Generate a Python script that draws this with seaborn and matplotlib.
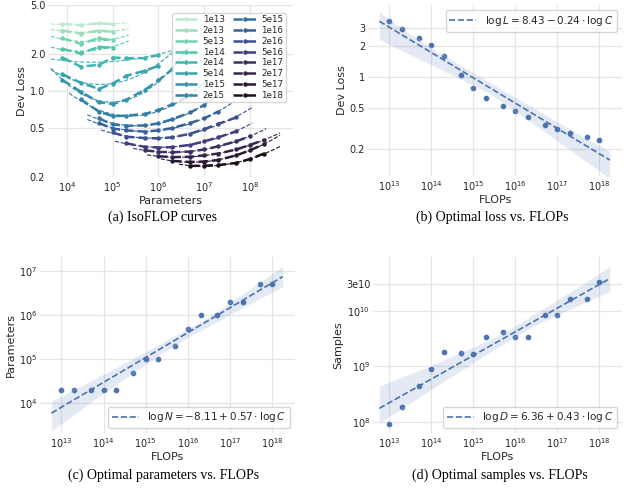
import numpy as np
import pandas as pd
import matplotlib
matplotlib.use("Agg")
import matplotlib.pyplot as plt
from matplotlib.ticker import NullLocator
import seaborn as sns

# compute budgets of the IsoFLOP sweeps
budgets = ['1e13', '2e13', '5e13', '1e14', '2e14', '5e14', '1e15', '2e15',
           '5e15', '1e16', '2e16', '5e16', '1e17', '2e17', '5e17', '1e18']

# model sizes and dev loss per budget
n_1e13 = [8e3, 2e4, 5e4, 1e5]
loss_1e13 = [3.50, 3.43, 3.55, 3.50]
n_2e13 = [8e3, 2e4, 5e4, 1e5]
loss_2e13 = [3.10, 2.93, 3.10, 3.03]
n_5e13 = [8e3, 2e4, 5e4, 1e5]
loss_5e13 = [2.68, 2.42, 2.68, 2.58]
n_1e14 = [8e3, 2e4, 5e4, 1e5]
loss_1e14 = [2.20, 2.02, 2.28, 2.25]
n_2e14 = [8e3, 2e4, 5e4, 1e5, 2e5, 5e5, 1e6]
loss_2e14 = [1.87, 1.58, 1.63, 1.87, 1.85, 1.85, 1.96]
n_5e14 = [8e3, 2e4, 5e4, 1e5, 2e5, 5e5, 1e6]
loss_5e14 = [1.37, 1.17, 1.04, 1.15, 1.33, 1.46, 1.60]
n_1e15 = [8e3, 2e4, 5e4, 1e5, 2e5, 5e5, 1e6, 2e6]
loss_1e15 = [1.23, 0.99, 0.81, 0.785, 0.85, 1.02, 1.22, 1.50]
n_2e15 = [2e4, 5e4, 1e5, 2e5, 5e5, 1e6, 2e6, 5e6]
loss_2e15 = [0.86, 0.68, 0.625, 0.63, 0.65, 0.70, 0.78, 0.92]
n_5e15 = [5e4, 1e5, 2e5, 5e5, 1e6, 2e6, 5e6, 1e7]
loss_5e15 = [0.60, 0.535, 0.522, 0.525, 0.545, 0.59, 0.67, 0.77]
n_1e16 = [5e4, 1e5, 2e5, 5e5, 1e6, 2e6, 5e6, 1e7, 2e7]
loss_1e16 = [0.55, 0.495, 0.478, 0.468, 0.478, 0.50, 0.55, 0.60, 0.68]
n_2e16 = [1e5, 2e5, 5e5, 1e6, 2e6, 5e6, 1e7, 2e7, 5e7]
loss_2e16 = [0.46, 0.425, 0.415, 0.412, 0.42, 0.45, 0.49, 0.54, 0.61]
n_5e16 = [2e5, 5e5, 1e6, 2e6, 5e6, 1e7, 2e7, 5e7]
loss_5e16 = [0.375, 0.352, 0.347, 0.35, 0.365, 0.39, 0.42, 0.47]
n_1e17 = [5e5, 1e6, 2e6, 5e6, 1e7, 2e7, 5e7, 1e8]
loss_1e17 = [0.33, 0.32, 0.318, 0.322, 0.335, 0.355, 0.39, 0.43]
n_2e17 = [1e6, 2e6, 5e6, 1e7, 2e7, 5e7, 1e8, 2e8]
loss_2e17 = [0.295, 0.29, 0.292, 0.30, 0.31, 0.335, 0.365, 0.40]
n_5e17 = [2e6, 5e6, 1e7, 2e7, 5e7, 1e8, 2e8]
loss_5e17 = [0.27, 0.265, 0.267, 0.275, 0.30, 0.33, 0.37]
n_1e18 = [5e6, 1e7, 2e7, 5e7, 1e8, 2e8]
loss_1e18 = [0.246, 0.247, 0.25, 0.26, 0.28, 0.31]

# optimal points per budget (panels b-d)
flops = [1e13, 2e13, 5e13, 1e14, 2e14, 5e14, 1e15, 2e15,
         5e15, 1e16, 2e16, 5e16, 1e17, 2e17, 5e17, 1e18]
opt_loss = [3.5, 2.95, 2.43, 2.05, 1.6, 1.05, 0.79, 0.635,
            0.527, 0.468, 0.412, 0.347, 0.318, 0.29, 0.265, 0.246]
opt_params = [2e4, 2e4, 2e4, 2e4, 2e4, 5e4, 1e5, 1e5,
              2e5, 5e5, 1e6, 1e6, 2e6, 2e6, 5e6, 5e6]
opt_samples = [9.2e7, 1.84e8, 4.5e8, 9.0e8, 1.8e9, 1.75e9, 1.7e9, 3.4e9,
               4.2e9, 3.36e9, 3.36e9, 8.4e9, 8.4e9, 1.64e10, 1.64e10, 3.29e10]

fit_labels = [r'$\log L = 8.43 - 0.24 \cdot \log C$',
              r'$\log N = -8.11 + 0.57 \cdot \log C$',
              r'$\log D = 6.36 + 0.43 \cdot \log C$']

sns.set_theme(style='whitegrid')
plt.rcParams.update({
    'font.family': ['DejaVu Sans'],
    'xtick.labelsize': 7,
    'ytick.labelsize': 7,
    'axes.labelsize': 8,
    'legend.fontsize': 7.5,
    'grid.color': '#e5e5e5',
    'grid.linewidth': 0.9,
    'xtick.major.pad': 2,
    'ytick.major.pad': 2,
    'axes.labelpad': 2,
})

iso_n = [n_1e13, n_2e13, n_5e13, n_1e14, n_2e14, n_5e14, n_1e15, n_2e15,
         n_5e15, n_1e16, n_2e16, n_5e16, n_1e17, n_2e17, n_5e17, n_1e18]
iso_loss = [loss_1e13, loss_2e13, loss_5e13, loss_1e14, loss_2e14, loss_5e14,
            loss_1e15, loss_2e15, loss_5e15, loss_1e16, loss_2e16, loss_5e16,
            loss_1e17, loss_2e17, loss_5e17, loss_1e18]
rows = []
for b, ns, ls in zip(budgets, iso_n, iso_loss):
    for n, l in zip(ns, ls):
        rows.append((b, n, l))
iso = pd.DataFrame(rows, columns=['budget', 'Parameters', 'Dev Loss'])

colors = sns.color_palette('mako_r', len(budgets))

fig = plt.figure(figsize=(6.4, 4.97), dpi=100)
W, H = 640, 497


def px_axes(left, right, top, bottom):
    return fig.add_axes([left / W, 1 - bottom / H, (right - left) / W, (bottom - top) / H])


ax_a = px_axes(48, 293, 5, 177)
ax_b = px_axes(368, 622, 5, 176)
ax_c = px_axes(40, 295, 257, 433)
ax_d = px_axes(373, 622, 257, 433)

# (a) IsoFLOP curves
sns.lineplot(data=iso, x='Parameters', y='Dev Loss', hue='budget', hue_order=budgets,
             palette=colors, marker='o', markersize=3.2, mew=0, linestyle='--',
             linewidth=1.8, errorbar=None, ax=ax_a)
for b, ns, ls, c in zip(budgets, iso_n, iso_loss, colors):
    coef = np.polyfit(np.log10(ns), np.log10(ls), 2)
    grid = np.linspace(np.log10(ns[0]) - 0.25, np.log10(ns[-1]) + 0.35, 60)
    ax_a.plot(10 ** grid, 10 ** np.polyval(coef, grid), ls='--', lw=0.8, color=c)
ax_a.set_xscale('log')
ax_a.set_yscale('log')
ax_a.set_xlim(3.9e3, 8.6e8)
ax_a.set_ylim(0.2, 5.0)
ax_a.set_xticks([1e4, 1e5, 1e6, 1e7, 1e8])
ax_a.set_yticks([0.2, 0.5, 1.0, 2.0, 5.0])
ax_a.set_yticklabels(['0.2', '0.5', '1.0', '2.0', '5.0'])
ax_a.xaxis.set_minor_locator(NullLocator())
ax_a.yaxis.set_minor_locator(NullLocator())
sns.move_legend(ax_a, 'upper right', ncol=2, title=None, fontsize=6.3,
                labelspacing=0.2, handlelength=2.6, columnspacing=1.0,
                borderpad=0.3, handletextpad=0.6, frameon=True,
                bbox_to_anchor=(0.99, 0.98))

# (b)-(d) optimal values vs. FLOPs, fitted in log-log space
panels = [(ax_b, opt_loss, 'Dev Loss', (-0.958, 0.704), 'upper right'),
          (ax_c, opt_params, 'Parameters', (3.33, 7.32), 'lower right'),
          (ax_d, opt_samples, 'Samples', (7.8, 10.97), 'lower right')]
for (ax, vals, ylab, ylim, loc), lab in zip(panels, fit_labels):
    ax.set_xlim(12.76, 18.25)
    sns.regplot(x=np.log10(flops), y=np.log10(vals), ax=ax, truncate=False, seed=0,
                ci=99, color='#4C72B0',
                scatter_kws={'s': 20, 'edgecolor': 'white', 'linewidths': 0.4, 'alpha': 1},
                line_kws={'ls': '--', 'lw': 1.2, 'label': lab})
    ax.set_xlim(12.49 if ax is not ax_d else 12.61, 18.54)
    ax.set_ylim(*ylim)
    ax.set_xticks(range(13, 19))
    ax.set_xticklabels([f'$10^{{{k}}}$' for k in range(13, 19)])
    ax.set_xlabel('FLOPs')
    ax.set_ylabel(ylab)
    ax.legend(loc=loc, fontsize=7.5, handlelength=2.6, borderpad=0.35)

ax_b.set_yticks(np.log10([0.2, 0.5, 1, 2, 3]))
ax_b.set_yticklabels(['0.2', '0.5', '1', '2', '3'])
ax_c.set_yticks([4, 5, 6, 7])
ax_c.set_yticklabels([f'$10^{{{k}}}$' for k in [4, 5, 6, 7]])
ax_d.set_yticks([8, 9, 10, np.log10(3e10)])
ax_d.set_yticklabels(['$10^{8}$', '$10^{9}$', '$10^{10}$', '3e10'])

for ax in [ax_a, ax_b, ax_c, ax_d]:
    sns.despine(ax=ax, left=True, bottom=True)
    ax.tick_params(length=0)

captions = [(163, 217, '(a) IsoFLOP curves'), (492, 217, '(b) Optimal loss vs. FLOPs'),
            (164, 475, '(c) Optimal parameters vs. FLOPs'), (500, 475, '(d) Optimal samples vs. FLOPs')]
for cx, cy, txt in captions:
    fig.text(cx / W, 1 - cy / H, txt, ha='center', va='center',
             family=['Liberation Serif'], fontsize=10, color='black')

fig.savefig('out.png', dpi=100)
